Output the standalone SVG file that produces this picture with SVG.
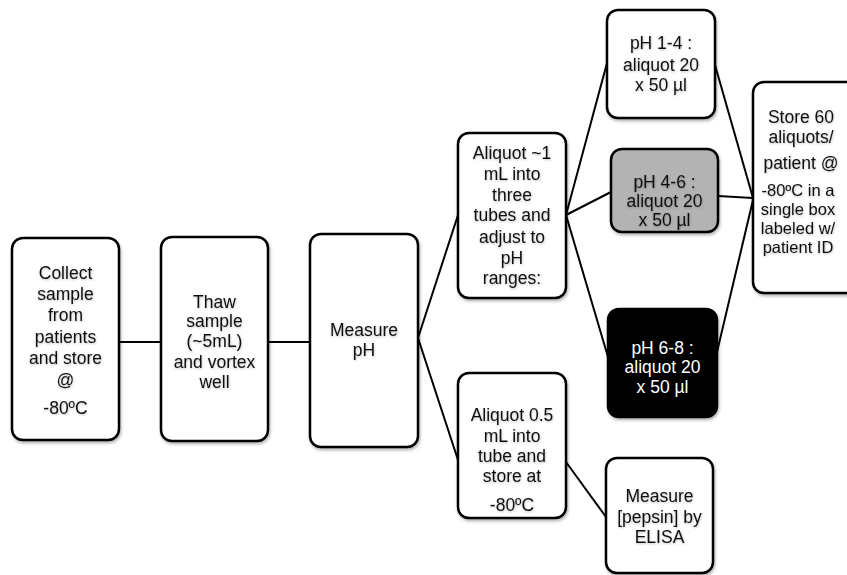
<svg xmlns="http://www.w3.org/2000/svg" width="847" height="575" viewBox="0 0 847 575">
<defs>
<filter id="sh" x="-10%" y="-10%" width="130%" height="130%">
<feDropShadow dx="1" dy="2" stdDeviation="1.5" flood-color="#000" flood-opacity="0.3"/>
</filter>
<filter id="tsh" x="-10%" y="-20%" width="130%" height="150%">
<feDropShadow dx="0.5" dy="1" stdDeviation="0.8" flood-color="#000" flood-opacity="0.25"/>
</filter>
</defs>
<style>
.box{fill:#fff;stroke:#000;stroke-width:2.5}
.gray{fill:#b3b3b3}
.black{fill:#000}
text{font-family:"Liberation Sans",Arial,sans-serif;font-size:17.5px;text-anchor:middle;fill:#111}
.t{filter:url(#tsh)}
.s{font-size:16.5px}
.w{fill:#fff}
.c line{stroke:#000;stroke-width:2}
</style>
<rect width="847" height="575" fill="#fff"/>
<g class="c">
<line x1="119" y1="342" x2="161" y2="342"/>
<line x1="268" y1="342" x2="310" y2="342"/>
<line x1="418" y1="338" x2="458" y2="215"/>
<line x1="418" y1="338" x2="458" y2="460"/>
<line x1="566" y1="215" x2="607" y2="63"/>
<line x1="566" y1="215" x2="611" y2="192"/>
<line x1="566" y1="215" x2="608" y2="357"/>
<line x1="715" y1="65" x2="753" y2="198"/>
<line x1="718" y1="196" x2="753" y2="198"/>
<line x1="717" y1="352" x2="753" y2="200"/>
<line x1="566" y1="462" x2="606" y2="517"/>
</g>
<g id="collect">
<rect class="box" x="12" y="238" width="107" height="202" rx="11" filter="url(#sh)"/>
<g class="t">
<text x="65.5" y="279">Collect</text>
<text x="65.5" y="300">sample</text>
<text x="65.5" y="321">from</text>
<text x="65.5" y="343">patients</text>
<text x="65.5" y="364">and store</text>
<text x="65.5" y="386">@</text>
<text x="65.5" y="414">-80ºC</text>
</g>
</g>
<g id="thaw">
<rect class="box" x="161" y="237" width="107" height="204" rx="11" filter="url(#sh)"/>
<g class="t">
<text x="214.5" y="308">Thaw</text>
<text x="214.5" y="327">sample</text>
<text x="214.5" y="347">(~5mL)</text>
<text x="214.5" y="368">and vortex</text>
<text x="214.5" y="388">well</text>
</g>
</g>
<g id="measure-ph">
<rect class="box" x="310" y="234" width="108" height="213" rx="11" filter="url(#sh)"/>
<g class="t">
<text x="364" y="336">Measure</text>
<text x="364" y="356">pH</text>
</g>
</g>
<g id="aliquot1">
<rect class="box" x="458" y="133" width="108" height="165" rx="11" filter="url(#sh)"/>
<g class="t">
<text x="512" y="159">Aliquot ~1</text>
<text x="512" y="180">mL into</text>
<text x="512" y="201">three</text>
<text x="512" y="221">tubes and</text>
<text x="512" y="243">adjust to</text>
<text x="512" y="264">pH</text>
<text x="512" y="284">ranges:</text>
</g>
</g>
<g id="aliquot05">
<rect class="box" x="458" y="373" width="108" height="145" rx="11" filter="url(#sh)"/>
<g class="t">
<text x="512" y="421">Aliquot 0.5</text>
<text x="512" y="442">mL into</text>
<text x="512" y="462">tube and</text>
<text x="512" y="482">store at</text>
<text x="512" y="511">-80ºC</text>
</g>
</g>
<g id="ph14">
<rect class="box" x="607" y="10" width="108" height="108" rx="11" filter="url(#sh)"/>
<g class="t">
<text x="661" y="49">pH 1-4 :</text>
<text x="661" y="71">aliquot 20</text>
<text x="661" y="91">x 50 µl</text>
</g>
</g>
<g id="ph46">
<rect class="box gray" x="611" y="149" width="107" height="83" rx="11" filter="url(#sh)"/>
<g class="t">
<text x="664.5" y="188">pH 4-6 :</text>
<text x="664.5" y="207">aliquot 20</text>
<text x="664.5" y="226">x 50 µl</text>
</g>
</g>
<g id="ph68">
<rect class="box black" x="608" y="309" width="109" height="108" rx="11" filter="url(#sh)"/>
<text class="w" x="662.5" y="354">pH 6-8 :</text>
<text class="w" x="662.5" y="373">aliquot 20</text>
<text class="w" x="662.5" y="393">x 50 µl</text>
</g>
<g id="store">
<rect class="box" x="753" y="82" width="108" height="211" rx="11" filter="url(#sh)"/>
<g class="t">
<text x="801" y="123">Store 60</text>
<text x="801" y="143">aliquots/</text>
<text x="801" y="169">patient @</text>
<text class="s" x="798" y="196">-80ºC in a</text>
<text class="s" x="798" y="215">single box</text>
<text class="s" x="798" y="234">labeled w/</text>
<text class="s" x="798" y="253">patient ID</text>
</g>
</g>
<g id="pepsin">
<rect class="box" x="606" y="458" width="107" height="115" rx="11" filter="url(#sh)"/>
<g class="t">
<text x="659.5" y="502">Measure</text>
<text x="659.5" y="523">[pepsin] by</text>
<text x="659.5" y="543">ELISA</text>
</g>
</g>
</svg>
